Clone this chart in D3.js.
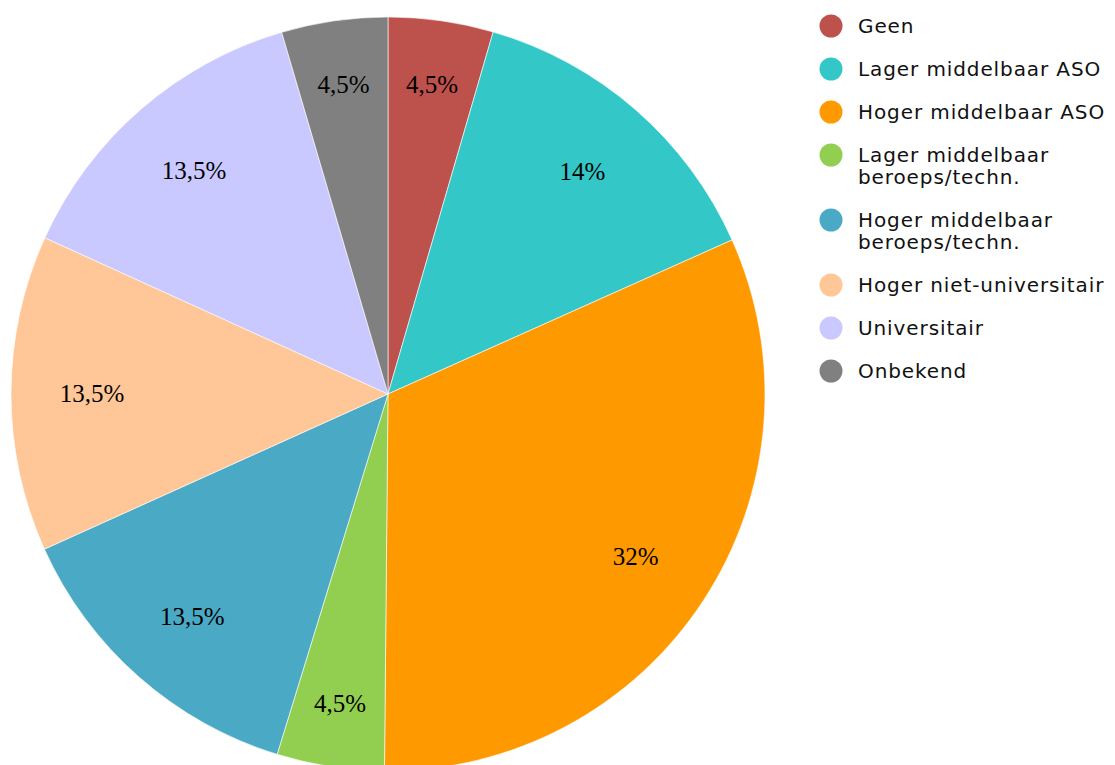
<!DOCTYPE html>
<html>
<head>
<meta charset="utf-8">
<script src="https://cdn.jsdelivr.net/npm/d3@7"></script>
<style>
  html, body { margin: 0; padding: 0; background: #fff; }
  svg { display: block; }
</style>
</head>
<body>
<svg id="chart" width="1115" height="765"></svg>
<script>
// Opleidingsniveau - aandelen and the printed labels
const categories = [
    'Geen',
    'Lager middelbaar ASO',
    'Hoger middelbaar ASO',
    'Lager middelbaar beroeps/techn.',
    'Hoger middelbaar beroeps/techn.',
    'Hoger niet-universitair',
    'Universitair',
    'Onbekend'
];
const shares = [4.5, 13.8, 31.85, 4.6, 13.5, 13.55, 13.65, 4.55];
const pctLabels = ['4,5%', '14%', '32%', '4,5%', '13,5%', '13,5%', '13,5%', '4,5%'];
// legend lines (long names wrap to two lines)
const legendLines = [
    ['Geen'],
    ['Lager middelbaar ASO'],
    ['Hoger middelbaar ASO'],
    ['Lager middelbaar', 'beroeps/techn.'],
    ['Hoger middelbaar', 'beroeps/techn.'],
    ['Hoger niet-universitair'],
    ['Universitair'],
    ['Onbekend']
];
const colors = ['#bd514c', '#33c7c8', '#ff9900', '#92cf50', '#4aa9c4', '#ffc797', '#c9c8ff', '#808080'];

const svg = d3.select('#chart');
const cx = 388, cy = 394, radius = 377;

const data = categories.map((c, i) => ({
    name: c, value: shares[i], label: pctLabels[i], color: colors[i], lines: legendLines[i]
}));

const pie = d3.pie().sort(null).value(d => d.value);
const arc = d3.arc().innerRadius(0).outerRadius(radius);

const g = svg.append('g').attr('transform', `translate(${cx},${cy})`);
const arcs = pie(data);

g.selectAll('path')
    .data(arcs)
    .enter()
    .append('path')
    .attr('d', arc)
    .attr('fill', d => d.data.color)
    .attr('stroke', '#ffffff')
    .attr('stroke-width', 0.6);

// narrow slices get their label pushed a bit further out
function labelPos(d) {
    const narrow = (d.endAngle - d.startAngle) < 0.5;
    const r = narrow ? radius * 0.83 : radius * 0.785;
    return d3.arc().innerRadius(r).outerRadius(r).centroid(d);
}

g.selectAll('text.label')
    .data(arcs)
    .enter()
    .append('text')
    .attr('class', 'label')
    .attr('transform', d => `translate(${labelPos(d)})`)
    .attr('text-anchor', 'middle')
    .attr('dy', '0.35em')
    .style('font-family', '"Liberation Serif", "Times New Roman", serif')
    .style('font-size', '25px')
    .style('fill', '#000')
    .text(d => d.data.label);

// legend
const legend = svg.append('g').attr('transform', 'translate(831,26)');
let y = 0;
data.forEach(d => {
    const item = legend.append('g').attr('transform', `translate(0,${y})`);
    item.append('circle').attr('r', 11.5).attr('fill', d.color);
    const txt = item.append('text')
        .attr('x', 27)
        .attr('y', 0)
        .style('font-family', '"DejaVu Sans", sans-serif')
        .style('font-size', '20px')
        .style('letter-spacing', '0.9px')
        .style('fill', '#111');
    d.lines.forEach((line, i) => {
        txt.append('tspan').attr('x', 27).attr('dy', i === 0 ? '0.35em' : '1.1em').text(line);
    });
    y += 43 + (d.lines.length - 1) * 22;
});
</script>
</body>
</html>
